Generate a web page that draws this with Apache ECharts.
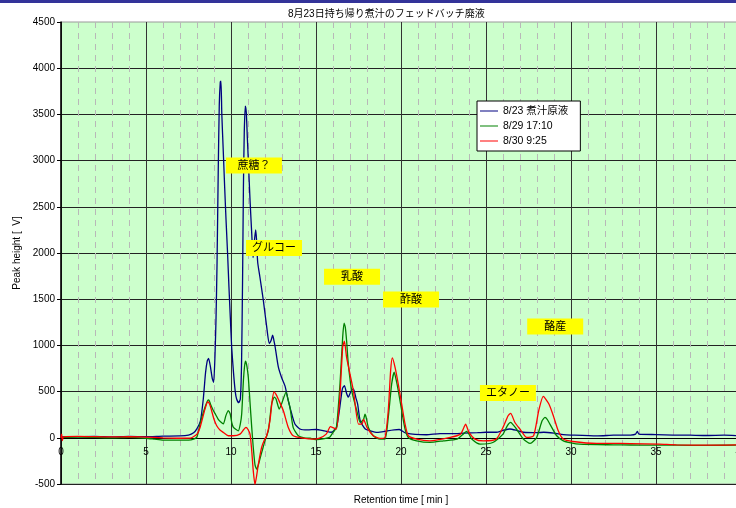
<!DOCTYPE html>
<html>
<head>
<meta charset="utf-8">
<script src="https://cdn.jsdelivr.net/npm/echarts@6/dist/echarts.min.js"></script>
<style>
  html, body { margin: 0; padding: 0; background: #ffffff; overflow: hidden; }
  #chart { width: 736px; height: 508px; }
</style>
</head>
<body>
<div id="chart"></div>
<script>
// Chromatogram traces: [retention time (min), peak height]
const seriesNames = ['8/23 煮汁原液', '8/29 17:10', '8/30 9:25'];

const trace0823 = [
  [0,10],[1,12],[2,15],[3,10],[4,15],[5,12],[6,18],[7,20],[7.5,30],[7.8,55],[8.0,100],[8.2,180],
  [8.37,420],[8.5,700],[8.6,830],[8.68,860],[8.78,780],[8.9,640],[8.98,600],[9.06,900],[9.12,1300],
  [9.18,1900],[9.25,2900],[9.31,3600],[9.37,3850],[9.41,3860],[9.46,3500],[9.55,3080],[9.63,2700],
  [9.71,2350],[9.8,1990],[9.88,1630],[9.96,1300],[10.04,980],[10.15,700],[10.25,500],[10.33,420],
  [10.45,380],[10.55,420],[10.62,800],[10.68,1700],[10.73,2700],[10.78,3300],[10.84,3590],[10.9,3520],
  [10.96,3250],[11.02,3000],[11.12,2570],[11.22,2210],[11.3,1950],[11.36,2100],[11.45,2250],[11.5,2150],
  [11.57,1900],[11.7,1740],[11.9,1490],[12.1,1200],[12.25,1020],[12.35,1050],[12.45,1110],[12.55,1030],
  [12.6,980],[12.78,770],[12.98,650],[13.18,560],[13.37,400],[13.57,260],[13.76,150],[14.06,95],
  [14.5,85],[15.0,90],[15.5,75],[15.9,60],[16.2,110],[16.4,330],[16.55,530],[16.67,565],[16.8,480],
  [16.9,440],[17.05,500],[17.2,530],[17.35,430],[17.45,365],[17.6,185],[17.9,95],[18.2,75],[18.6,58],
  [19.2,75],[19.6,85],[19.9,90],[20.3,50],[21.5,33],[22.3,45],[23.0,45],[23.7,50],[24.5,55],[25.0,60],
  [25.6,60],[26.0,80],[26.4,95],[26.8,80],[27.2,60],[28.0,55],[28.4,60],[29.0,50],[29.55,35],[30.0,30],
  [31.5,20],[32.5,28],[33.5,30],[33.8,40],[33.9,70],[34.0,40],[35,35],[36,30],[37,28],[38,25],[39,28],[40,22]
];

const trace0829 = [
  [0,5],[1,8],[2,5],[3,0],[4,5],[5,-5],[5.5,-15],[6,-25],[7,-25],[7.5,-25],[7.8,-15],[8.0,10],[8.18,150],
  [8.3,230],[8.47,330],[8.62,400],[8.7,410],[8.8,360],[8.96,295],[9.1,250],[9.25,200],[9.4,170],[9.55,150],
  [9.7,240],[9.84,295],[9.95,260],[10.05,160],[10.14,112],[10.3,90],[10.43,76],[10.55,150],[10.63,260],
  [10.73,620],[10.8,780],[10.86,830],[10.94,770],[11.02,650],[11.12,380],[11.22,110],[11.31,-105],
  [11.41,-290],[11.51,-340],[11.6,-300],[11.7,-230],[11.85,-130],[12.0,-30],[12.2,80],[12.39,365],
  [12.55,440],[12.65,420],[12.84,310],[13.0,380],[13.24,495],[13.35,420],[13.47,330],[13.66,110],
  [13.96,22],[14.3,0],[14.65,-5],[15.04,-20],[15.5,-10],[15.8,5],[16.0,58],[16.2,112],[16.41,580],
  [16.57,1090],[16.65,1240],[16.72,1200],[16.8,1050],[16.9,800],[17.1,510],[17.4,293],[17.6,166],
  [17.8,200],[17.88,255],[17.95,220],[18.08,112],[18.37,22],[18.76,-14],[19.06,-14],[19.25,220],
  [19.45,580],[19.6,710],[19.7,640],[19.84,510],[20.04,293],[20.24,94],[20.43,4],[20.92,-33],[21.7,-50],
  [22.5,-33],[23.3,-14],[23.6,30],[23.86,70],[24.0,40],[24.16,-14],[24.65,-69],[25.4,-51],[26.0,40],
  [26.25,130],[26.45,166],[26.6,140],[26.8,94],[27.2,-14],[27.6,-61],[27.98,4],[28.3,184],[28.47,220],
  [28.6,200],[28.76,148],[29.16,22],[29.55,-33],[30.0,-55],[30.5,-69],[32.5,-76],[33.5,-78],[35,-80],
  [36.2,-80],[38,-82],[40,-78]
];

const trace0830 = [
  [0,0],[0.04,40],[0.08,-30],[0.15,10],[1,15],[2,12],[3,10],[4,12],[5,8],[6,0],[7,-5],[7.6,-4],[8.0,40],
  [8.18,112],[8.47,311],[8.63,390],[8.75,360],[8.86,293],[9.0,200],[9.16,130],[9.35,85],[9.55,58],
  [9.84,22],[10.14,22],[10.53,40],[10.75,90],[10.88,112],[11.0,90],[11.12,40],[11.22,-141],[11.31,-358],
  [11.41,-505],[11.5,-420],[11.61,-286],[11.8,-105],[11.95,-30],[12.1,22],[12.29,184],[12.42,400],
  [12.53,498],[12.65,470],[12.78,419],[13.08,293],[13.37,112],[13.66,22],[14.25,-4],[14.84,-14],
  [15.2,-4],[15.6,40],[15.85,120],[16.0,110],[16.2,94],[16.4,437],[16.57,980],[16.67,1045],[16.8,870],
  [17.0,690],[17.2,510],[17.5,148],[17.7,148],[17.8,200],[18.0,112],[18.37,22],[18.76,-7],[19.06,4],
  [19.25,293],[19.39,727],[19.49,864],[19.65,763],[19.84,582],[20.04,365],[20.24,148],[20.43,22],
  [20.92,-14],[21.7,-33],[22.9,4],[23.5,40],[23.7,112],[23.8,148],[24.0,58],[24.35,-14],[24.84,-33],
  [25.6,-14],[26.0,112],[26.3,239],[26.45,264],[26.7,166],[27.0,94],[27.4,4],[27.8,22],[28.1,293],
  [28.37,448],[28.7,365],[28.96,239],[29.25,76],[29.55,-14],[30.1,-40],[31.5,-61],[32.3,-61],[33.5,-62],
  [35.2,-69],[36.2,-76],[38.2,-80],[40,-76]
];

// Peak annotations: text and anchor point in data coordinates
const peakLabels = ['蔗糖？', 'グルコー', '乳酸', '酢酸', '酪産', 'エタノー'];
const peakAnchors = [[11.35,2947],[12.53,2055],[17.12,1743],[20.59,1497],[29.07,1204],[26.29,485]];

// Axis ranges and tick steps
const xRange = [0, 40], xStep = 5;
const yRange = [-500, 4500], yStep = 500;

const FONT = '"Liberation Sans", "Noto Sans CJK JP", sans-serif';
const lineColors = ['#000080', '#008000', '#ff0000'];
const traces = [trace0823, trace0829, trace0830];

// Plot box (pixels)
const GRID = { left: 61, top: 22, right: -5, bottom: 24 };
const plotHeight = 508 - GRID.top - GRID.bottom;
// shift the time axis up from the bottom edge to the zero baseline
const zeroLift = -plotHeight * (0 - yRange[0]) / (yRange[1] - yRange[0]);

const chart = echarts.init(document.getElementById('chart'), null, { renderer: 'canvas' });

const lineSeries = traces.map((d, i) => ({
  name: seriesNames[i],
  type: 'line',
  data: d,
  showSymbol: false,
  symbol: 'none',
  smooth: 0.2,
  lineStyle: { color: lineColors[i], width: 1.3 },
  itemStyle: { color: lineColors[i] },
  z: 3 + i
}));

const labelSeries = {
  type: 'scatter',
  name: 'labels',
  symbol: 'rect',
  symbolSize: [56, 16],
  itemStyle: { color: '#ffff00', opacity: 1 },
  silent: true,
  z: 10,
  label: {
    show: true,
    position: 'inside',
    color: '#000',
    fontSize: 11,
    fontFamily: FONT,
    formatter: p => p.data.text
  },
  data: peakAnchors.map((a, i) => ({ value: a, text: peakLabels[i] }))
};

const plain = v => String(v);

chart.setOption({
  animation: false,
  backgroundColor: '#ffffff',
  textStyle: { fontFamily: FONT },
  title: {
    text: '8月23日持ち帰り煮汁のフェッドバッチ廃液',
    left: 283, top: 4,
    textStyle: { fontSize: 10, fontWeight: 'normal', color: '#000', fontFamily: FONT }
  },
  graphic: [{
    type: 'rect', left: 0, top: 0,
    shape: { width: 736, height: 3 },
    style: { fill: '#333399' }
  }],
  legend: {
    data: seriesNames,
    orient: 'vertical',
    left: 477, top: 101,
    backgroundColor: '#ffffff',
    borderColor: '#000000',
    borderWidth: 1,
    borderRadius: 0,
    padding: [4, 12, 4, 3],
    itemGap: 3,
    itemWidth: 18,
    itemHeight: 1,
    icon: 'rect',
    textStyle: { fontSize: 10.5, color: '#000', fontFamily: FONT, lineHeight: 12 }
  },
  grid: {
    left: GRID.left, top: GRID.top, right: GRID.right, bottom: GRID.bottom,
    outerBoundsMode: 'none',
    containLabel: false,
    show: true,
    backgroundColor: '#ccffcc',
    borderColor: '#999999',
    borderWidth: 1
  },
  xAxis: {
    type: 'value',
    position: 'bottom',
    offset: zeroLift,
    min: xRange[0], max: xRange[1], interval: xStep,
    name: 'Retention time [ min ]',
    nameLocation: 'middle',
    nameGap: 57,
    nameTextStyle: { fontSize: 10, color: '#000', fontFamily: FONT },
    axisLine: { onZero: false, lineStyle: { color: '#000', width: 1 } },
    axisTick: { show: false },
    axisLabel: { fontSize: 10, color: '#000', margin: 9, fontFamily: FONT, formatter: plain },
    splitLine: { show: true, lineStyle: { color: '#333333', width: 1 } },
    minorTick: { show: false, splitNumber: 5 },
    minorSplitLine: { show: true, lineStyle: { color: '#b8b8b8', width: 1, type: [6, 5] } }
  },
  yAxis: {
    type: 'value',
    min: yRange[0], max: yRange[1], interval: yStep,
    name: 'Peak height [  V]',
    nameLocation: 'middle',
    nameGap: 38,
    nameTextStyle: { fontSize: 10, color: '#000', fontFamily: FONT },
    axisLine: { show: true, onZero: false, lineStyle: { color: '#000', width: 1.5 } },
    axisTick: { show: true, length: 4, lineStyle: { color: '#000' } },
    axisLabel: { fontSize: 10, color: '#000', margin: 6, fontFamily: FONT, formatter: plain },
    splitLine: { show: true, showMaxLine: false, lineStyle: { color: '#222222', width: 1 } }
  },
  series: [...lineSeries, labelSeries]
});
</script>
</body>
</html>
